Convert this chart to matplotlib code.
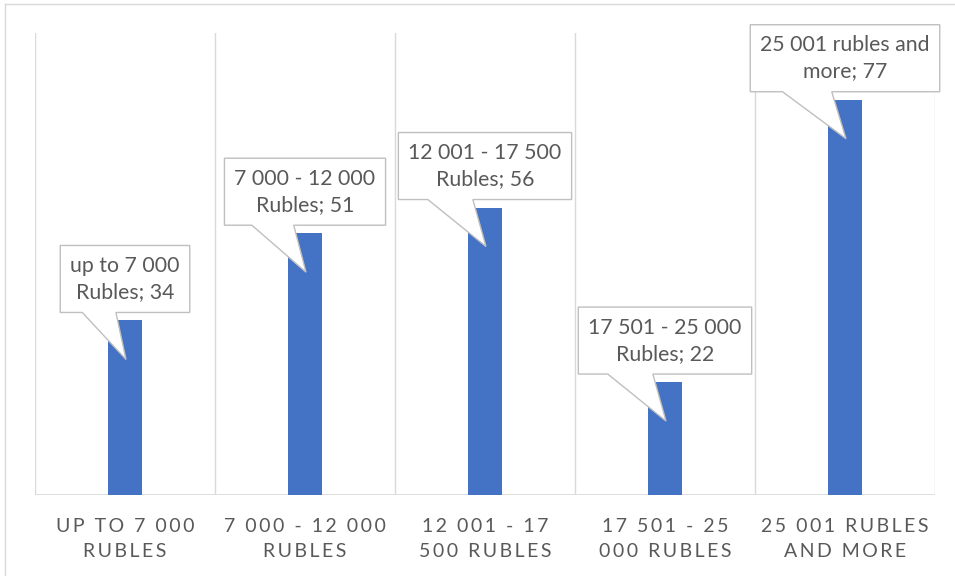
import textwrap
import matplotlib
matplotlib.use("Agg")
import matplotlib.pyplot as plt
from matplotlib.patches import Polygon
from matplotlib.lines import Line2D

categories = [
    "up to 7 000 Rubles",
    "7 000 - 12 000 Rubles",
    "12 001 - 17 500 Rubles",
    "17 501 - 25 000 Rubles",
    "25 001 rubles and more",
]
values = [34, 51, 56, 22, 77]

BAR_COLOR = "#4472C4"
GRID_COLOR = "#D9D9D9"
TEXT_COLOR = "#595959"
FONT = ["Lato", "DejaVu Sans"]

W, H, DPI = 955, 576, 100
fig = plt.figure(figsize=(W / DPI, H / DPI), dpi=DPI)
ax = fig.add_axes([35 / W, (H - 495) / H, 900 / W, 462 / H])

x = list(range(len(categories)))
ax.bar(x, values, width=0.19, color=BAR_COLOR, zorder=3)
ax.set_xlim(-0.5, len(categories) - 0.5)
ax.set_ylim(0, 90)

# category separators and baseline
for b in [i - 0.5 for i in range(len(categories) + 1)]:
    ax.axvline(b, color=GRID_COLOR, lw=1.0, zorder=1)
ax.axhline(0, color=GRID_COLOR, lw=1.2, zorder=2)
for s in ax.spines.values():
    s.set_visible(False)
ax.set_xticks([])
ax.set_yticks([])

# thin outer frame
fig.add_artist(Line2D([5, 954], [H - 4, H - 4], transform=None, color=GRID_COLOR, lw=1.0))
fig.add_artist(Line2D([5, 5], [0, H - 4], transform=None, color=GRID_COLOR, lw=1.0))

fig.canvas.draw()
renderer = fig.canvas.get_renderer()

# category labels: uppercase, letter-spaced, two lines
for i, cat in enumerate(categories):
    xd = ax.transData.transform((i, 0))[0]
    lines = textwrap.wrap(cat.upper(), 14)
    for k, line in enumerate(lines):
        spaced = "\u2009".join(line)
        fig.text(xd / W, (H - 532 - 25 * k) / H, spaced, ha="center", va="baseline",
                 fontsize=14, color=TEXT_COLOR, family=FONT)

# callout data labels
for i, (cat, v) in enumerate(zip(categories, values)):
    label = "\n".join(textwrap.wrap(f"{cat}; {v}", 17))
    xd, yd = ax.transData.transform((i, v))
    tip_y = yd - 39
    bottom = tip_y + 47
    top = bottom + 67
    t = fig.text(xd / W, (bottom + top) / 2 / H, label, ha="center", va="center",
                 fontsize=15.3, color=TEXT_COLOR, family=FONT, linespacing=1.38,
                 multialignment="center", zorder=6)
    tw = t.get_window_extent(renderer).width
    bw = tw + 20
    left = xd - bw / 2
    right = xd + bw / 2
    pts = [(left, bottom), (left + 0.17 * bw, bottom), (xd + 1, tip_y),
           (left + 0.43 * bw, bottom), (right, bottom), (right, top), (left, top)]
    fig.add_artist(Polygon(pts, closed=True, transform=None, facecolor="white",
                           edgecolor="#BFBFBF", lw=1.0, zorder=5))

fig.savefig("out.png", dpi=DPI)
